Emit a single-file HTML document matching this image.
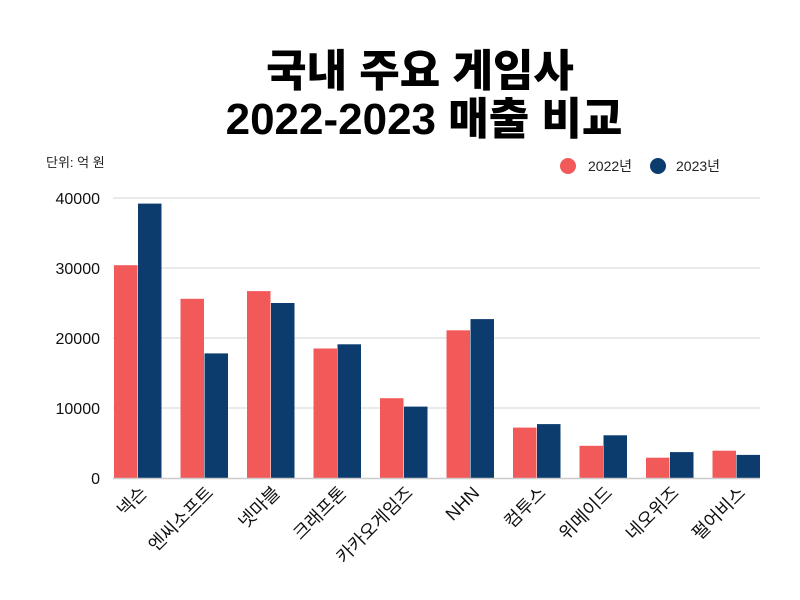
<!DOCTYPE html>
<html><head><meta charset="utf-8"><style>
body{margin:0;background:#fff;}
svg{display:block;font-family:"Liberation Sans","Noto Sans CJK KR",sans-serif;}
</style></head><body>
<svg width="800" height="600" viewBox="0 0 800 600">
<rect width="800" height="600" fill="#fff"/>
<text x="420" y="86" text-anchor="middle" font-size="44" font-weight="900" fill="#000">국내 주요 게임사</text>
<text x="424" y="134" text-anchor="middle" font-size="44" font-weight="900" fill="#000">2022-2023 매출 비교</text>
<text x="46" y="167" font-size="13" fill="#222">단위: 억 원</text>
<circle cx="568" cy="166" r="8" fill="#f25a5a"/>
<text x="588" y="171" font-size="14" fill="#222">2022년</text>
<circle cx="658" cy="166" r="8" fill="#0c3b6e"/>
<text x="676" y="171" font-size="14" fill="#222">2023년</text>
<g stroke="#e4e4e4" stroke-width="1.5">
<line x1="113" x2="760" y1="198" y2="198"/>
<line x1="113" x2="760" y1="268" y2="268"/>
<line x1="113" x2="760" y1="338" y2="338"/>
<line x1="113" x2="760" y1="408" y2="408"/>
</g>
<g font-size="16" fill="#111" text-anchor="end">
<text x="100" y="204">40000</text>
<text x="100" y="274">30000</text>
<text x="100" y="344">20000</text>
<text x="100" y="414">10000</text>
<text x="100" y="484">0</text>
</g>
<g fill="#f25a5a">
<rect x="114" y="265.2" width="23.5" height="212.8"/>
<rect x="180.5" y="298.8" width="23.5" height="179.2"/>
<rect x="247" y="291.1" width="23.5" height="186.9"/>
<rect x="313.5" y="348.5" width="23.5" height="129.5"/>
<rect x="380" y="398.2" width="23.5" height="79.8"/>
<rect x="446.5" y="330.3" width="23.5" height="147.7"/>
<rect x="513" y="427.6" width="23.5" height="50.4"/>
<rect x="579.5" y="445.8" width="23.5" height="32.2"/>
<rect x="646" y="457.7" width="23.5" height="20.3"/>
<rect x="712.5" y="450.7" width="23.5" height="27.3"/>
</g>
<g fill="#0c3b6e">
<rect x="138" y="203.6" width="23.5" height="274.4"/>
<rect x="204.5" y="353.4" width="23.5" height="124.6"/>
<rect x="271" y="303" width="23.5" height="175"/>
<rect x="337.5" y="344.3" width="23.5" height="133.7"/>
<rect x="404" y="406.6" width="23.5" height="71.4"/>
<rect x="470.5" y="319.1" width="23.5" height="158.9"/>
<rect x="537" y="424.1" width="23.5" height="53.9"/>
<rect x="603.5" y="435.3" width="23.5" height="42.7"/>
<rect x="670" y="452.1" width="23.5" height="25.9"/>
<rect x="736.5" y="454.9" width="23.5" height="23.1"/>
</g>
<line x1="113" x2="760" y1="478.5" y2="478.5" stroke="#ccc" stroke-width="1.5"/>
<g font-size="18" fill="#111" text-anchor="end">
<text x="148" y="494" transform="rotate(-45 148 494)">넥슨</text>
<text x="214.5" y="494" transform="rotate(-45 214.5 494)">엔씨소프트</text>
<text x="281" y="494" transform="rotate(-45 281 494)">넷마블</text>
<text x="347.5" y="494" transform="rotate(-45 347.5 494)">크래프톤</text>
<text x="414" y="494" transform="rotate(-45 414 494)">카카오게임즈</text>
<text x="480.5" y="494" transform="rotate(-45 480.5 494)">NHN</text>
<text x="547" y="494" transform="rotate(-45 547 494)">컴투스</text>
<text x="613.5" y="494" transform="rotate(-45 613.5 494)">위메이드</text>
<text x="680" y="494" transform="rotate(-45 680 494)">네오위즈</text>
<text x="746.5" y="494" transform="rotate(-45 746.5 494)">펄어비스</text>
</g>
</svg>
</body></html>
